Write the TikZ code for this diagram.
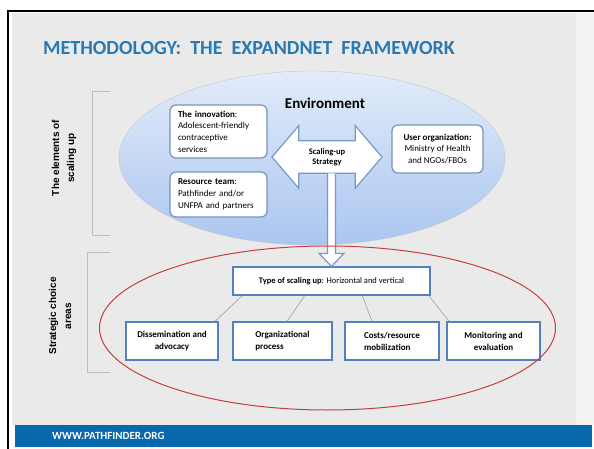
\documentclass[tikz,border=0pt]{standalone}
\usepackage{fontspec}
\setmainfont{Carlito}
\newfontfamily\arialfont{Liberation Sans}
\usepackage{tikz}
\usetikzlibrary{arrows,shapes,calc}
\definecolor{titleblue}{RGB}{41,121,180}
\definecolor{barblue}{RGB}{8,104,172}
\definecolor{envlight}{RGB}{226,236,250}
\definecolor{envdark}{RGB}{170,198,240}
\definecolor{boxedge}{RGB}{84,128,190}
\definecolor{roundedge}{RGB}{122,146,180}
\definecolor{arrowedge}{RGB}{120,152,202}
\definecolor{areared}{RGB}{196,62,66}
\definecolor{pagegray}{RGB}{234,234,234}
\tikzstyle{elem}=[draw=roundedge, line width=1.2pt, fill=white,
                rounded corners=6pt, inner xsep=8pt, inner ysep=2pt,
                font=\fontsize{9}{11.7}\selectfont]
\tikzstyle{area}=[draw=boxedge, line width=1.2pt, fill=white,
                minimum height=38pt, font=\fontsize{9}{12}\selectfont\bfseries]
\tikzstyle{link}=[draw=gray!75, line width=0.6pt]
\tikzstyle{brace}=[draw=gray!50, line width=0.7pt]
\tikzstyle{sidelabel}=[rotate=90, align=center, inner sep=0,
                font=\arialfont\fontsize{10}{15}\selectfont\bfseries]

\begin{document}
\begin{tikzpicture}[x=1pt,y=-1pt]
\useasboundingbox (0,0) rectangle (594,449);
% slide background
\fill[pagegray] (12,13) rectangle (594,425);
\fill[white!40!pagegray] (576,13) rectangle (594,425);
\fill[barblue] (15,425) rectangle (592,447);
\draw[line width=2pt] (8,449) -- (8,11) -- (594,11);
\node[anchor=west, inner sep=0, text=titleblue,
      font=\fontsize{20}{24}\selectfont\bfseries] (title) at (43,48)
      {METHODOLOGY:\ \ THE\ \ EXPANDNET\ \ FRAMEWORK};
\node[anchor=west, inner sep=0, text=white,
      font=\fontsize{11}{12}\selectfont\bfseries] (web) at (52,436)
      {WWW.PATHFINDER.ORG};

% side labels
\draw[brace] (110,91) -- (92,91) -- (92,235) -- (110,235);
\draw[brace] (110,252) -- (87,252) -- (87,372) -- (110,372);
\node[sidelabel] (elements) at (64,158) {The elements of\\scaling up};
\node[sidelabel] (choice) at (60,316) {Strategic choice\\areas};

% environment
\node[ellipse, minimum width=386pt, minimum height=174pt,
      top color=envlight, bottom color=envdark,
      draw=gray!45, line width=0.4pt] (env) at (312,158) {};
\node[font=\fontsize{15}{18}\selectfont\bfseries] (envlabel) at (325,103) {Environment};
\node[elem, text width=81pt, minimum height=53pt, align=left] (innov) at (218.5,131.5)
      {\textbf{The innovation}:\\Adolescent-friendly\\contraceptive\\services};
\node[elem, text width=81pt, minimum height=45pt, align=left] (team) at (218.5,194.5)
      {\textbf{Resource team}:\\Pathfinder and/or\\UNFPA and partners};
\node[elem, minimum width=91pt, minimum height=48pt, align=center] (user) at (437.5,149)
      {\textbf{User organization:}\\Ministry of Health\\and NGOs/FBOs};
\node[double arrow, draw=arrowedge, line width=1.2pt, fill=white,
      double arrow head extend=15pt, double arrow tip angle=99,
      minimum height=110pt, inner xsep=0, inner ysep=7pt, align=center,
      font=\fontsize{8.5}{10}\selectfont\bfseries] (strat) at (327,157)
      {Scaling-up\\Strategy};

% strategic choice areas
\node[area, minimum width=197pt, minimum height=28pt,
      font=\fontsize{8.5}{10}\selectfont] (type) at (331.5,281)
      {\textbf{Type of scaling up}: Horizontal and vertical};
\draw[arrowedge, line width=1.2pt, fill=white]
  ($(type.north |- strat.center)+(-4,16.5)$) -- ($(type.north)+(-4,-13)$)
  -- ($(type.north)+(-12.5,-13)$) -- (type.north) -- ($(type.north)+(12.5,-13)$)
  -- ($(type.north)+(4,-13)$) -- ($(type.north |- strat.center)+(4,16.5)$);
\node[area, minimum width=92pt, align=center] (dissem) at (172,341) {Dissemination and\\advocacy};
\node[area, minimum width=99pt, align=left] (orgproc) at (282.5,341) {Organizational\\process};
\node[area, minimum width=94pt, align=left] (costs) at (392,341) {Costs/resource\\mobilization};
\node[area, minimum width=93pt, align=center] (monit) at (493.5,341) {Monitoring and\\evaluation};
\path[link]
  ($(type.south west)!0.05!(type.south east)$) edge ($(dissem.north west)!0.96!(dissem.north east)$)
  ($(type.south west)!0.365!(type.south east)$) edge ($(orgproc.north west)!0.545!(orgproc.north east)$)
  ($(type.south west)!0.655!(type.south east)$) edge ($(costs.north west)!0.29!(costs.north east)$)
  ($(type.south west)!0.99!(type.south east)$) edge ($(monit.north west)!0.03!(monit.north east)$);
\node[ellipse, draw=areared, line width=1pt, minimum width=456pt,
      minimum height=164pt] (areas) at (327.5,328) {};
\end{tikzpicture}
\end{document}
